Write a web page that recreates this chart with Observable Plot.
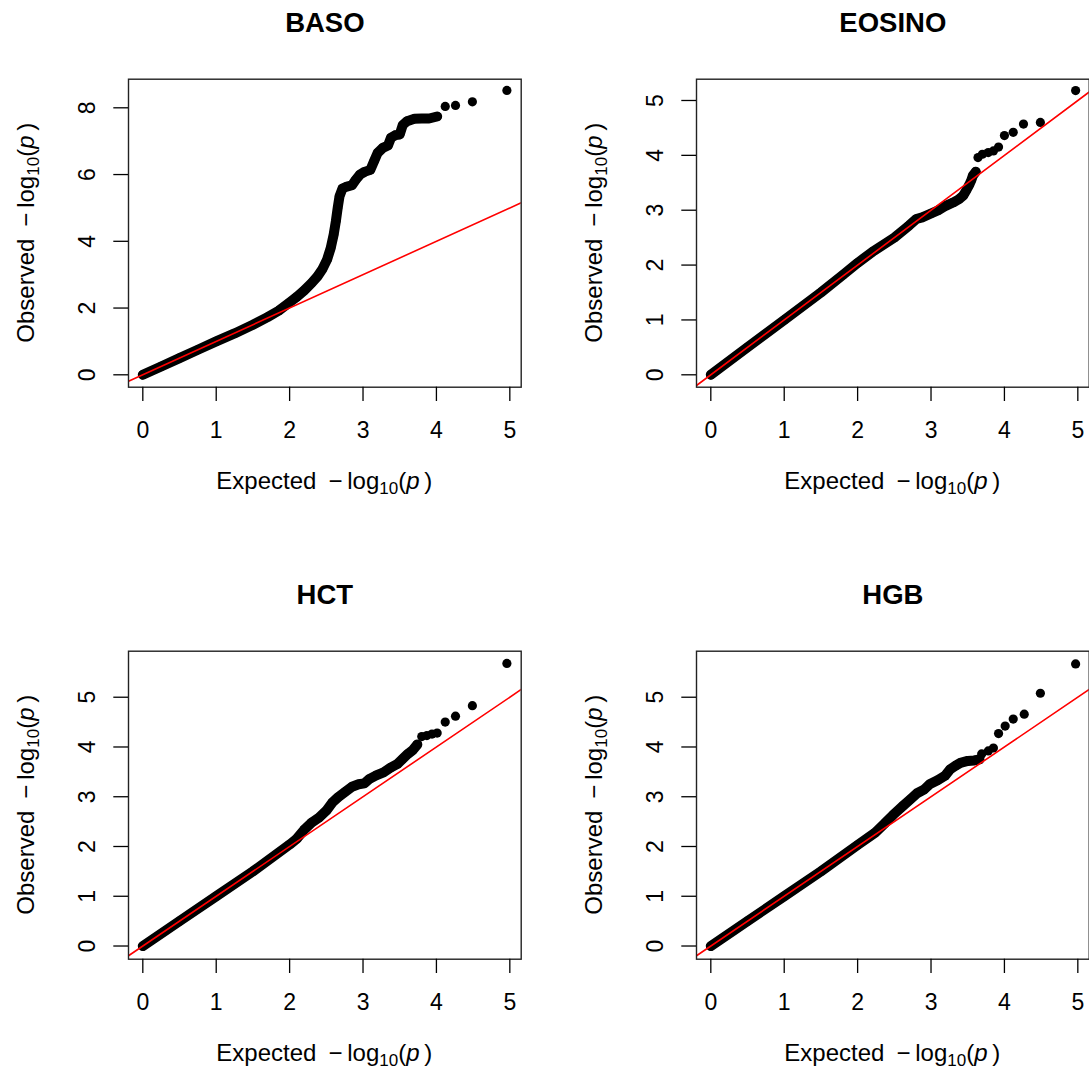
<!DOCTYPE html>
<html>
<head>
<meta charset="utf-8">
<script src="https://cdn.jsdelivr.net/npm/d3@7"></script>
<script src="https://cdn.jsdelivr.net/npm/@observablehq/plot@0.6"></script>
<style>
  html, body { margin: 0; padding: 0; background: #fff; overflow: hidden; }
  #wrap { position: relative; width: 1089px; height: 1070px; }
  .panel { position: absolute; }
</style>
</head>
<body>
<div id="wrap"></div>
<script>
// ---- data ----
const titles = ["BASO", "EOSINO", "HCT", "HGB"];
const xTicks = [0, 1, 2, 3, 4, 5];
const basoYTicks = [0, 2, 4, 6, 8];
const otherYTicks = [0, 1, 2, 3, 4, 5];

// [expected, observed] — dense band and sparse tail
const basoBand = [[0,0],[0.25,0.25],[0.5,0.5],[0.75,0.75],[1.0,1.0],[1.25,1.24],[1.5,1.5],[1.7,1.73],[1.85,1.92],[2.0,2.17],[2.1,2.34],[2.2,2.53],[2.3,2.75],[2.38,2.95],[2.45,3.18],[2.51,3.45],[2.56,3.8],[2.6,4.2],[2.63,4.6],[2.655,5.0],[2.68,5.35],[2.72,5.58],[2.78,5.64],[2.85,5.68],[2.9,5.84],[2.96,6.0],[3.02,6.08],[3.1,6.14],[3.15,6.4],[3.2,6.65],[3.27,6.8],[3.34,6.87],[3.38,7.1],[3.44,7.18],[3.5,7.2],[3.54,7.48],[3.6,7.6],[3.7,7.67],[3.8,7.68],[3.9,7.68],[4.01,7.74]];
const basoTail = [[4.12,8.04],[4.26,8.07],[4.49,8.18],[4.96,8.52]];

const eosinoBand = [[0,0],[0.5,0.5],[1,1],[1.5,1.5],[1.8,1.82],[2.0,2.04],[2.2,2.24],[2.5,2.5],[2.7,2.72],[2.8,2.84],[2.88,2.87],[3.0,2.94],[3.1,3.0],[3.2,3.08],[3.3,3.14],[3.38,3.2],[3.44,3.27],[3.48,3.36],[3.52,3.46],[3.55,3.55],[3.57,3.63],[3.61,3.7]];
const eosinoTail = [[3.64,3.96],[3.7,4.02],[3.78,4.05],[3.85,4.08],[3.92,4.15],[4.0,4.36],[4.12,4.42],[4.26,4.57],[4.49,4.6],[4.97,5.18]];

const hctBand = [[0,0],[0.5,0.5],[1,1],[1.5,1.5],[2.0,2.04],[2.1,2.16],[2.2,2.34],[2.3,2.48],[2.4,2.58],[2.5,2.72],[2.58,2.88],[2.66,2.99],[2.75,3.09],[2.85,3.2],[2.94,3.25],[3.02,3.27],[3.09,3.36],[3.18,3.43],[3.28,3.49],[3.37,3.58],[3.47,3.66],[3.54,3.76],[3.61,3.86],[3.68,3.94],[3.74,4.05]];
const hctTail = [[3.8,4.21],[3.87,4.23],[3.94,4.26],[4.01,4.28],[4.12,4.5],[4.26,4.62],[4.49,4.83],[4.96,5.68]];

const hgbBand = [[0,0],[0.5,0.5],[1,1],[1.5,1.5],[2.0,2.03],[2.24,2.28],[2.38,2.48],[2.48,2.63],[2.62,2.82],[2.72,2.95],[2.81,3.07],[2.91,3.15],[2.98,3.25],[3.09,3.33],[3.19,3.42],[3.26,3.55],[3.33,3.62],[3.4,3.68],[3.5,3.72],[3.59,3.73],[3.66,3.75]];
const hgbTail = [[3.69,3.86],[3.78,3.92],[3.85,3.98],[3.92,4.27],[4.01,4.42],[4.12,4.56],[4.27,4.66],[4.49,5.08],[4.97,5.67]];

// ---- layout ----
const FONT = "'Liberation Sans', Arial, Helvetica, sans-serif";
const W = 521, H = 498;
const mL = 128, mR = 0.3, mT = 78.7, mB = H - 386.7;
const xDomain = [-0.195, 5.155];

const panels = [
  {title: titles[0], band: basoBand, tail: basoTail, yTicks: basoYTicks, yDomain: [-0.3715, 8.857], left: 0, top: 0},
  {title: titles[1], band: eosinoBand, tail: eosinoTail, yTicks: otherYTicks, yDomain: [-0.226, 5.388], left: 568, top: 0},
  {title: titles[2], band: hctBand, tail: hctTail, yTicks: otherYTicks, yDomain: [-0.265, 5.925], left: 0, top: 571.5},
  {title: titles[3], band: hgbBand, tail: hgbTail, yTicks: otherYTicks, yDomain: [-0.265, 5.925], left: 568, top: 571.5}
];

function appendMathLabel(textSel, word) {
  textSel.append("tspan").text(word + "\u2002\u2212\u2009log");
  textSel.append("tspan").attr("font-size", 17).attr("dy", 5).text("10");
  textSel.append("tspan").attr("dy", -5).text("(");
  textSel.append("tspan").attr("font-style", "italic").text("p");
  textSel.append("tspan").text("\u2009)");
}

const wrap = document.getElementById("wrap");
for (const p of panels) {
  const ref = [[xDomain[0], xDomain[0]], [xDomain[1], xDomain[1]]];
  const all = p.band.concat(p.tail);
  const chart = Plot.plot({
    width: W, height: H,
    marginLeft: mL, marginRight: mR, marginTop: mT, marginBottom: mB,
    x: {domain: xDomain, axis: null},
    y: {domain: p.yDomain, axis: null},
    style: {fontFamily: FONT, background: "transparent", overflow: "visible", color: "#000"},
    marks: [
      Plot.line(p.band, {x: d => d[0], y: d => d[1], stroke: "#000", strokeWidth: 10, strokeLinecap: "round", strokeLinejoin: "round"}),
      Plot.dot(all, {x: d => d[0], y: d => d[1], r: 4.6, fill: "#000", stroke: "none"}),
      Plot.line(ref, {x: d => d[0], y: d => d[1], stroke: "#ff0000", strokeWidth: 1.6, clip: true}),
      Plot.frame({stroke: "#222", strokeWidth: 1.4}),
      Plot.axisX({ticks: xTicks, tickSize: 14.3, tickPadding: 20, fontSize: 23, label: null, strokeWidth: 1.3, tickFormat: d => String(d)}),
      Plot.axisY({ticks: p.yTicks, tickSize: 14.7, fill: "none", label: null, strokeWidth: 1.3}),
      Plot.text(p.yTicks, {y: d => d, text: d => String(d), frameAnchor: "left", rotate: -90, lineAnchor: "bottom", textAnchor: "middle", dx: -34, fontSize: 23, fill: "#000"}),
      Plot.text([p.title], {text: d => d, frameAnchor: "top", lineAnchor: "bottom", dy: -47, fontSize: 27.5, fontWeight: "bold", fill: "#000"})
    ]
  });
  const svg = d3.select(chart);
  const cx = (mL + (W - mR)) / 2;
  const cy = (mT + (H - mB)) / 2;
  svg.append("text")
    .attr("x", cx).attr("y", 489)
    .attr("text-anchor", "middle").attr("font-size", 24).attr("fill", "#000")
    .attr("font-family", FONT)
    .call(t => appendMathLabel(t, "Expected"));
  svg.append("text")
    .attr("transform", `translate(34,${cy}) rotate(-90)`)
    .attr("text-anchor", "middle").attr("font-size", 24).attr("fill", "#000")
    .attr("font-family", FONT)
    .call(t => appendMathLabel(t, "Observed"));
  const div = document.createElement("div");
  div.className = "panel";
  div.style.left = p.left + "px";
  div.style.top = p.top + "px";
  div.appendChild(chart);
  wrap.appendChild(div);
}
</script>
</body>
</html>
